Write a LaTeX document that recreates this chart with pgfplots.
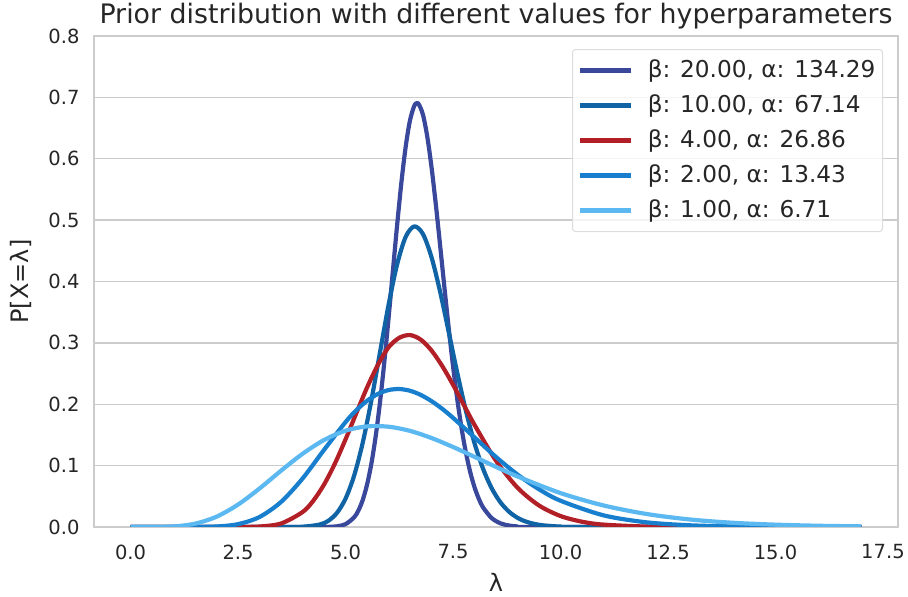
\documentclass[border=0pt]{standalone}
\usepackage{pgfplots}
\pgfplotsset{compat=1.18}
\usepackage{fontspec}
\setmainfont{DejaVu Sans}
\definecolor{cA}{RGB}{58,72,156}
\definecolor{cB}{RGB}{16,99,164}
\definecolor{cC}{RGB}{178,31,38}
\definecolor{cD}{RGB}{24,127,206}
\definecolor{cE}{RGB}{92,184,240}
\definecolor{gridgray}{RGB}{204,204,204}
\definecolor{legendgray}{RGB}{220,220,220}
\definecolor{textgray}{RGB}{38,38,38}
\begin{document}
\begin{tikzpicture}
\path[use as bounding box] (-94pt,-70pt) rectangle (814pt,527pt);
\begin{axis}[
  at={(0,0)}, anchor=south west,
  scale only axis, width=804pt, height=491pt,
  xmin=-0.85, xmax=17.85, ymin=0, ymax=0.8,
  xtick={0,2.5,5,7.5,10,12.5,15,17.5},
  ytick={0,0.1,0.2,0.3,0.4,0.5,0.6,0.7,0.8},
  major tick length=0pt,
  axis line style={draw=gridgray, line width=1.8pt},
  ymajorgrids, grid style={draw=gridgray, line width=1.4pt},
  /pgf/number format/assume math mode=true,
  tick label style={font=\fontsize{19.5}{23}\selectfont, text=textgray},
  xticklabel={\pgfmathprintnumber[fixed,fixed zerofill,precision=1]{\tick}},
  yticklabel={\pgfmathprintnumber[fixed,fixed zerofill,precision=1]{\tick}},
  xticklabel style={yshift=-14pt},
  yticklabel style={xshift=-11pt},
  title={Prior distribution with different values for hyperparameters},
  title style={font=\fontsize{26.8}{31}\selectfont, text=textgray, at={(axis description cs:0.5,1)}, anchor=base, yshift=7pt},
  xlabel={λ}, ylabel={P[X=λ]},
  label style={font=\fontsize{24}{28}\selectfont, text=textgray},
  xlabel style={at={(axis description cs:0.5,-0.112)}, anchor=center},
  ylabel style={at={(axis description cs:-0.0908,0.5)}, anchor=center},
  legend cell align=left,
  legend image code/.code={\draw[#1, line width=4.2pt] (0pt,0pt) -- (51pt,0pt);},
  legend style={at={(rel axis cs:1,1)}, anchor=north east, xshift=-15pt, yshift=-13pt,
    draw=legendgray, line width=1pt, rounded corners=3pt, fill=white, fill opacity=0.8, draw opacity=1, text opacity=1,
    font=\fontsize{23.2}{27}\selectfont, text=textgray,
    inner xsep=5pt, inner ysep=7.5pt, row sep=8pt,
    nodes={inner sep=2pt, text height=18pt, text depth=5pt},
    /tikz/every odd column/.append style={column sep=13pt}},
  every axis plot/.append style={line width=4.2pt, smooth, line join=round},
]
\addplot[cA] coordinates {
(0,0) (4.4,0) (4.6,0.0002) (4.8,0.0011) (5.0,0.0046) (5.2,0.0157) (5.3,0.0269) (5.4,0.0439) (5.5,0.0687) (5.6,0.1026) (5.7,0.1470)
(5.8,0.2021) (5.9,0.2670) (6.0,0.3394) (6.1,0.4160) (6.2,0.4916) (6.3,0.5615) (6.4,0.6200)
(6.5,0.6627) (6.6,0.6863) (6.65,0.6904) (6.7,0.6893) (6.8,0.6721) (6.9,0.6367) (7.0,0.5865)
(7.1,0.5258) (7.2,0.4590) (7.3,0.3905) (7.4,0.3241) (7.5,0.2625) (7.6,0.2076) (7.7,0.1604)
(7.8,0.1213) (7.9,0.0896) (8.0,0.0649) (8.1,0.0460) (8.2,0.0319) (8.4,0.0145) (8.6,0.0061) (8.8,0.0024) (9.0,0.0009)
(9.4,0) (17,0)};
\addlegendentry{β: 20.00, α: 134.29\hspace{12pt}}
\addplot[cB] coordinates {
(0,0) (3.6,0) (4.0,0.0004) (4.4,0.0040) (4.6,0.0101) (4.8,0.0229) (5.0,0.0461) (5.2,0.0836) (5.4,0.1372)
(5.6,0.2059) (5.8,0.2838) (6.0,0.3615) (6.2,0.4279) (6.4,0.4729) (6.6,0.4898) (6.8,0.4775)
(7.0,0.4396) (7.2,0.3834) (7.4,0.3177) (7.6,0.2509) (7.8,0.1893) (8.0,0.1366) (8.2,0.0947)
(8.4,0.0631) (8.6,0.0405) (8.8,0.0251) (9.0,0.0150) (9.2,0.0087) (9.4,0.0049) (9.6,0.0027) (10.0,0.0007) (10.6,0) (17,0)};
\addlegendentry{β: 10.00, α: 67.14}
\addplot[cC] coordinates {
(0,0) (1.5,0) (2.0,0) (2.5,0.0001) (3.0,0.0008) (3.5,0.0057) (4.0,0.0243) (4.25,0.0428)
(4.5,0.0691) (4.75,0.1029) (5.0,0.1427) (5.25,0.1853) (5.5,0.2271) (5.75,0.2637) (6.0,0.2927)
(6.25,0.3083) (6.5,0.3127) (6.75,0.3053) (7.0,0.2876) (7.25,0.2622) (7.5,0.2318) (7.75,0.1991)
(8.0,0.1665) (8.5,0.1080) (9.0,0.0641) (9.5,0.0351) (10.0,0.0179) (10.5,0.0086) (11.0,0.0039)
(12.0,0.0007) (13.0,0.0001) (14.0,0) (17,0)};
\addlegendentry{β: 4.00, α: 26.86}
\addplot[cD] coordinates {
(0,0) (0.5,0) (1.0,0) (1.5,0.0001) (2.0,0.0008) (2.5,0.0046) (3.0,0.0163) (3.5,0.0408)
(4.0,0.0789) (4.5,0.1256) (5.0,0.1709) (5.25,0.1901) (5.5,0.2056) (5.75,0.2167) (6.0,0.2231) (6.25,0.2248) (6.5,0.2220)
(6.75,0.2152) (7.0,0.2051) (7.25,0.1925) (7.5,0.1779) (8.0,0.1460) (8.5,0.1141) (9.0,0.0854) (9.5,0.0615) (10,0.0428)
(11,0.0190) (12,0.0076) (13,0.0028) (14,0.0009) (15,0.0003) (16,0.0001) (17,0)};
\addlegendentry{β: 2.00, α: 13.43}
\addplot[cE] coordinates {
(0,0) (0.5,0) (1.0,0.0009) (1.5,0.0054) (2.0,0.0168) (2.5,0.0365) (3.0,0.0627) (3.5,0.0917)
(4.0,0.1192) (4.5,0.1417) (5.0,0.1569) (5.5,0.1639) (6.0,0.1634) (6.5,0.1566) (7.0,0.1450)
(7.5,0.1304) (8.0,0.1143) (8.5,0.0980) (9.0,0.0824) (10,0.0553) (11,0.0351) (12,0.0212)
(13,0.0123) (14,0.0069) (15,0.0038) (16,0.0020) (17,0.0010)};
\addlegendentry{β: 1.00, α: 6.71}
\end{axis}
\end{tikzpicture}
\end{document}
